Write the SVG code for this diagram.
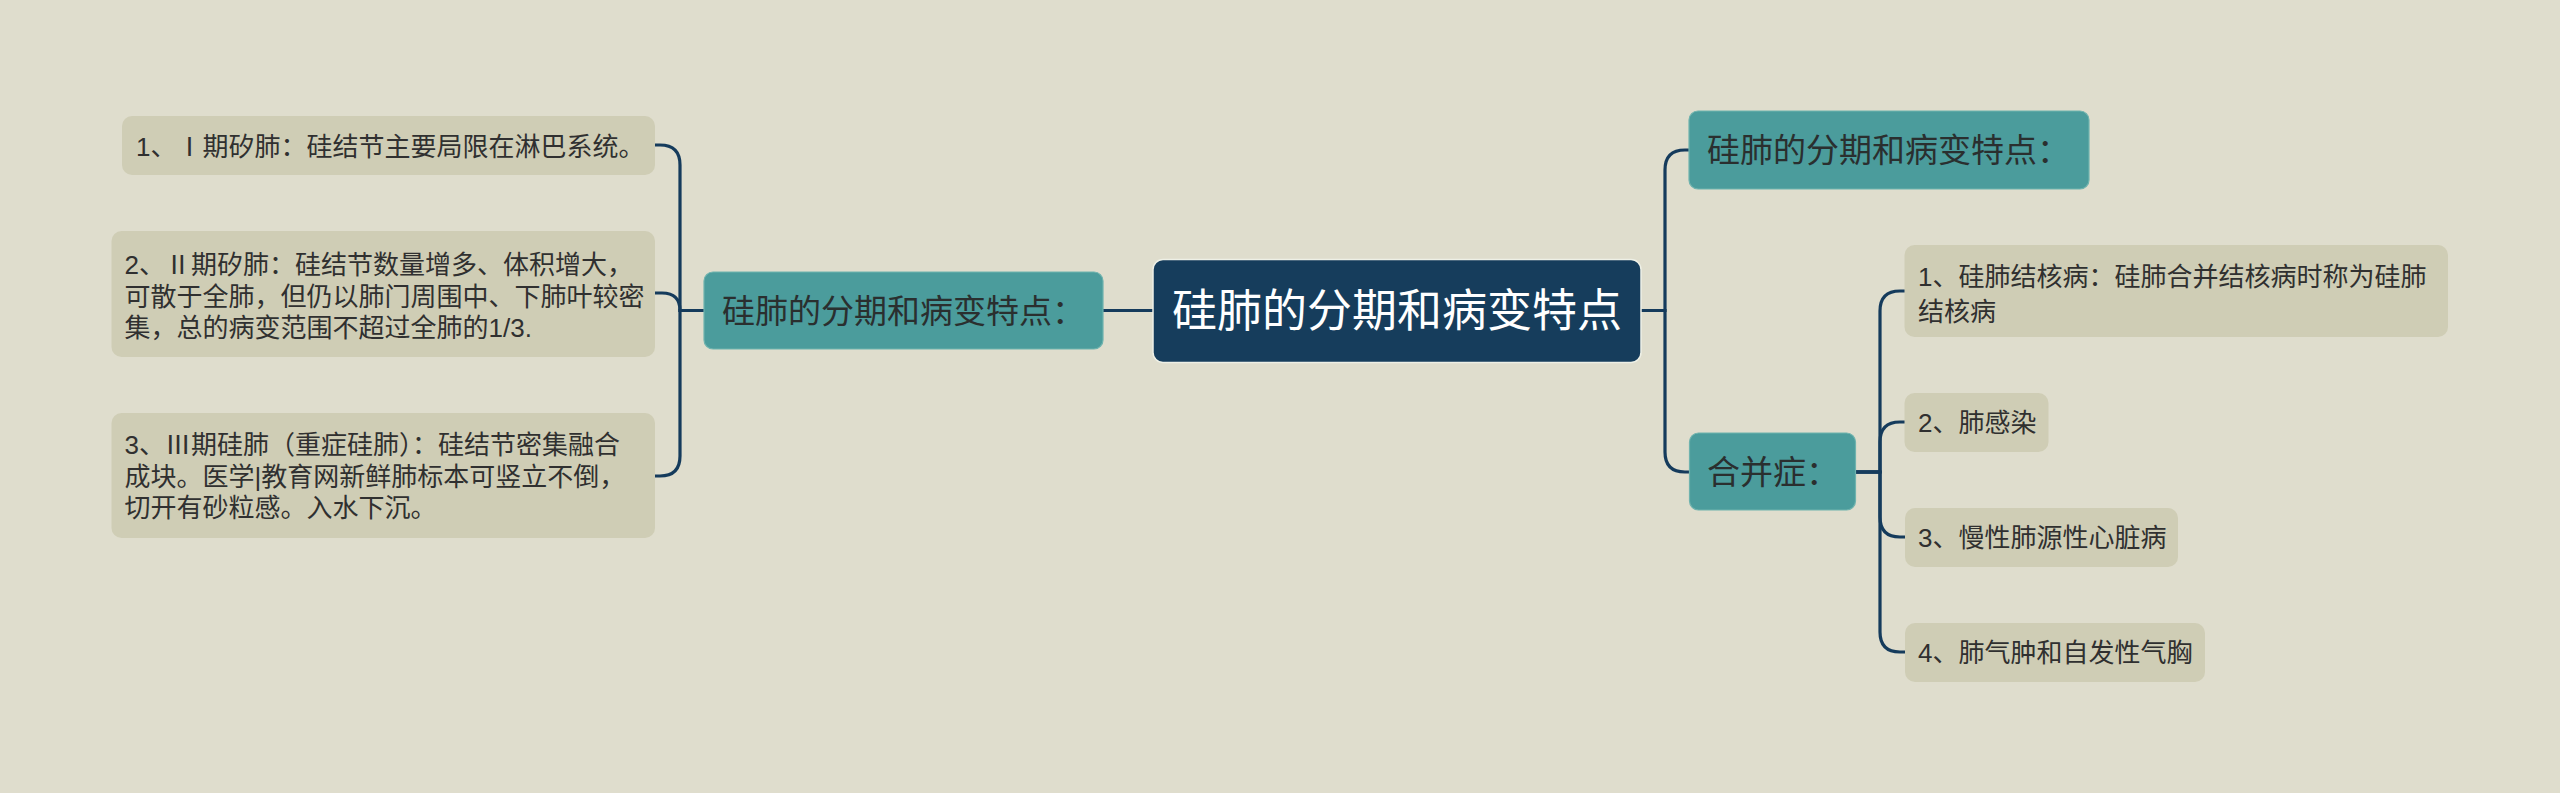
<svg xmlns="http://www.w3.org/2000/svg" width="2560" height="793" viewBox="0 0 2560 793">
<style>
.bg{fill:#dfddcd}
.leaf{fill:#cfcdb5}
.teal{fill:#4b9c9c;stroke:#6fb3ae;stroke-width:1.2}
.root{fill:#163d5c;stroke:#eef0e6;stroke-width:1.5}
.t{font-family:"Liberation Sans","Noto Sans CJK SC",sans-serif}
.cjk{font-family:"Noto Sans CJK SC","Noto Sans CJK JP",sans-serif}
.lt{font-size:26px;fill:#303030}
.mt{font-size:33px;fill:#2a2f2f}
.rt{font-size:45px;fill:#ffffff}
.conn path{fill:none;stroke:#153b5c;stroke-width:3.2;stroke-linecap:round}
</style>
<rect class="bg" x="0" y="0" width="2560" height="793"/>
<g class="conn" id="connectors">
<path d="M1153,310.5 H1103"/>
<path d="M704,310.5 H680 V165 Q680,145 660,145 H655"/>
<path d="M704,310.5 H680 Q680,293 662,293 H655"/>
<path d="M704,310.5 H680 V456 Q680,476 660,476 H655"/>
<path d="M1641,310.5 H1665 V170 Q1665,150 1685,150 H1689"/>
<path d="M1641,310.5 H1665 V452 Q1665,472 1685,472 H1690"/>
<path d="M1855.5,472 H1880 V311 Q1880,291 1900,291 H1905"/>
<path d="M1855.5,472 H1880 V442 Q1880,422 1900,422 H1905"/>
<path d="M1855.5,472 H1880 V517 Q1880,537 1900,537 H1905"/>
<path d="M1855.5,472 H1880 V632 Q1880,652 1900,652 H1905"/>
</g>
<g id="root">
<rect class="root" x="1153" y="259.5" width="488" height="103" rx="10"/>
<text class="t rt" x="1397" y="327" text-anchor="middle">硅肺的分期和病变特点</text>
</g>
<g id="left-main">
<rect class="teal" x="704" y="272" width="399" height="77" rx="9"/>
<text class="t mt" x="722" y="322.5">硅肺的分期和病变特点：</text>
</g>
<g id="left-1">
<rect class="leaf" x="122" y="116" width="533" height="59" rx="10"/>
<text class="t lt" x="136" y="156">1、<tspan class="cjk">Ⅰ</tspan>期矽肺：硅结节主要局限在淋巴系统。</text>
</g>
<g id="left-2">
<rect class="leaf" x="111.5" y="231" width="543.5" height="126" rx="10"/>
<text class="t lt" x="124.5" y="274">2、<tspan class="cjk">Ⅱ</tspan>期矽肺：硅结节数量增多、体积增大，</text>
<text class="t lt" x="124.5" y="305.5">可散于全肺，但仍以肺门周围中、下肺叶较密</text>
<text class="t lt" x="124.5" y="337">集，总的病变范围不超过全肺的1/3.</text>
</g>
<g id="left-3">
<rect class="leaf" x="111.5" y="413" width="543.5" height="125" rx="10"/>
<text class="t lt" x="124.5" y="453.5">3、<tspan class="cjk">Ⅲ</tspan>期硅肺（重症硅肺）：硅结节密集融合</text>
<text class="t lt" x="124.5" y="485.5">成块。医学|教育网新鲜肺标本可竖立不倒，</text>
<text class="t lt" x="124.5" y="517">切开有砂粒感。入水下沉。</text>
</g>
<g id="right-main">
<rect class="teal" x="1689" y="111" width="400" height="78" rx="9"/>
<text class="t mt" x="1707" y="162">硅肺的分期和病变特点：</text>
</g>
<g id="right-complications">
<rect class="teal" x="1689.5" y="433" width="166" height="77" rx="9"/>
<text class="t mt" x="1707" y="483.5">合并症：</text>
</g>
<g id="comp-1">
<rect class="leaf" x="1904.5" y="245" width="543.5" height="92" rx="10"/>
<text class="t lt" x="1918" y="285.5">1、硅肺结核病：硅肺合并结核病时称为硅肺</text>
<text class="t lt" x="1918" y="320.5">结核病</text>
</g>
<g id="comp-2">
<rect class="leaf" x="1904.5" y="393" width="144" height="59" rx="10"/>
<text class="t lt" x="1918" y="431.5">2、肺感染</text>
</g>
<g id="comp-3">
<rect class="leaf" x="1905" y="508" width="273" height="59" rx="10"/>
<text class="t lt" x="1918" y="546.5">3、慢性肺源性心脏病</text>
</g>
<g id="comp-4">
<rect class="leaf" x="1905" y="623" width="300" height="59" rx="10"/>
<text class="t lt" x="1918" y="661.5">4、肺气肿和自发性气胸</text>
</g>
</svg>
